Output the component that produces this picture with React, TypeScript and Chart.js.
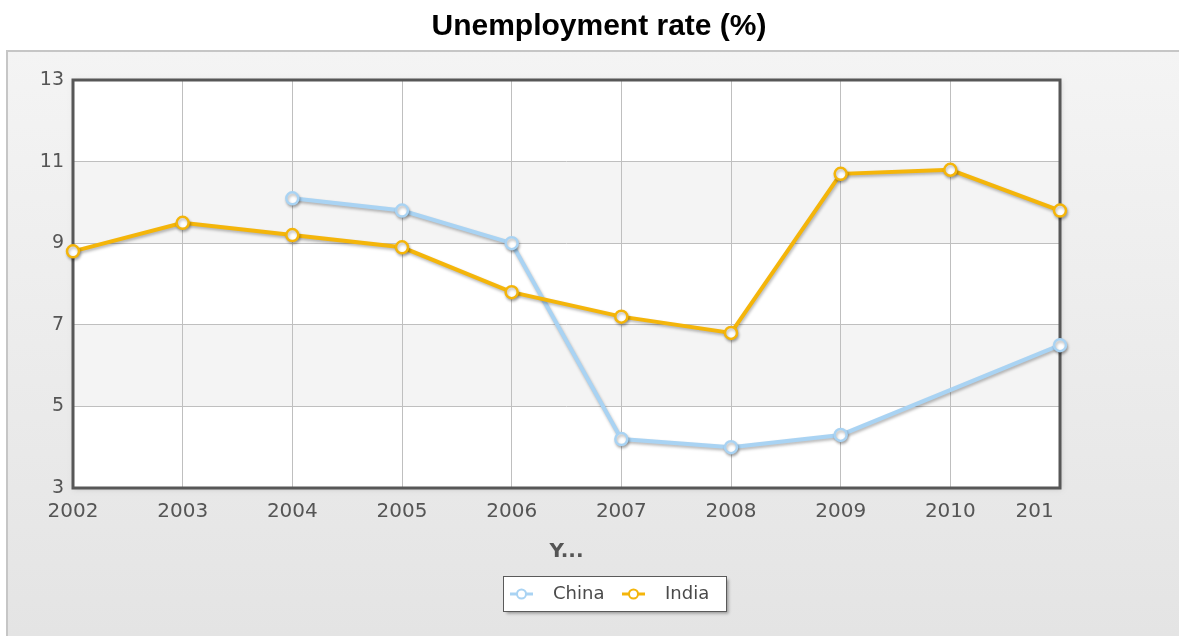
import React, { useEffect, useRef } from 'react';
import { Chart, registerables } from 'chart.js';

Chart.register(...registerables);

const years = ['2002', '2003', '2004', '2005', '2006', '2007', '2008', '2009', '2010', '2011'];
const xTickLabels = ['2002', '2003', '2004', '2005', '2006', '2007', '2008', '2009', '2010', '201'];
const chinaRate: (number | null)[] = [null, null, 10.1, 9.8, 9.0, 4.2, 4.0, 4.3, null, 6.5];
const indiaRate: (number | null)[] = [8.8, 9.5, 9.2, 8.9, 7.8, 7.2, 6.8, 10.7, 10.8, 9.8];
const yMin = 3;
const yMax = 13;
const yStep = 2;
const shadedBands: [number, number][] = [[5, 7], [9, 11]];
const seriesNames = ['China', 'India'];
const seriesColors = ['#a9d3f3', '#f4b50a'];
const chartTitle = 'Unemployment rate (%)';
const xAxisTitle = 'Y...';

const W = 1179;
const H = 636;
const TICK_FONT = 'DejaVu Sans';

const decorPlugin = {
  id: 'decor',
  beforeDraw(chart: any) {
    const { ctx, chartArea } = chart;
    const yScale = chart.scales.y;
    ctx.save();
    ctx.fillStyle = '#ffffff';
    ctx.fillRect(0, 0, W, H);
    const g = ctx.createLinearGradient(0, 51, 0, H);
    g.addColorStop(0, '#f4f4f4');
    g.addColorStop(1, '#e4e4e4');
    ctx.fillStyle = g;
    ctx.fillRect(7, 51, W, H);
    ctx.strokeStyle = '#c6c6c6';
    ctx.lineWidth = 2;
    ctx.beginPath();
    ctx.moveTo(7, H + 5);
    ctx.lineTo(7, 51);
    ctx.lineTo(W + 5, 51);
    ctx.stroke();
    ctx.fillStyle = '#000000';
    ctx.font = 'bold 30px "Liberation Sans", Arial, sans-serif';
    ctx.textAlign = 'center';
    ctx.textBaseline = 'middle';
    ctx.fillText(chartTitle, 599, 27);
    ctx.save();
    ctx.shadowColor = 'rgba(0,0,0,0.18)';
    ctx.shadowBlur = 5;
    ctx.shadowOffsetX = 1;
    ctx.shadowOffsetY = 1;
    ctx.fillStyle = '#ffffff';
    ctx.fillRect(chartArea.left, chartArea.top, chartArea.right - chartArea.left, chartArea.bottom - chartArea.top);
    ctx.restore();
    ctx.fillStyle = '#f4f4f4';
    shadedBands.forEach(([a, b]) => {
      const y1 = yScale.getPixelForValue(b);
      const y2 = yScale.getPixelForValue(a);
      ctx.fillRect(chartArea.left, y1, chartArea.right - chartArea.left, y2 - y1);
    });
    ctx.restore();
  },
  beforeDatasetsDraw(chart: any) {
    const { ctx, chartArea } = chart;
    ctx.save();
    ctx.strokeStyle = '#575757';
    ctx.lineWidth = 3;
    ctx.strokeRect(chartArea.left, chartArea.top, chartArea.right - chartArea.left, chartArea.bottom - chartArea.top);
    ctx.restore();
  },
  beforeDatasetDraw(chart: any) {
    const ctx = chart.ctx;
    ctx.save();
    ctx.shadowColor = 'rgba(0,0,0,0.28)';
    ctx.shadowBlur = 3;
    ctx.shadowOffsetX = 1;
    ctx.shadowOffsetY = 2;
  },
  afterDatasetDraw(chart: any) {
    chart.ctx.restore();
  },
  afterDraw(chart: any) {
    const { ctx } = chart;
    const box = { x: 503.5, y: 576.5, w: 223, h: 35 };
    ctx.save();
    ctx.shadowColor = 'rgba(0,0,0,0.35)';
    ctx.shadowBlur = 3;
    ctx.shadowOffsetX = 2;
    ctx.shadowOffsetY = 2;
    ctx.fillStyle = '#ffffff';
    ctx.fillRect(box.x, box.y, box.w, box.h);
    ctx.restore();
    ctx.save();
    ctx.strokeStyle = '#5a5a5a';
    ctx.lineWidth = 1;
    ctx.strokeRect(box.x, box.y, box.w, box.h);
    const cy = box.y + box.h / 2;
    const itemX = [510, 622];
    chart.data.datasets.forEach((ds: any, i: number) => {
      const x0 = itemX[i];
      ctx.strokeStyle = ds.borderColor;
      ctx.lineWidth = 3;
      ctx.beginPath();
      ctx.moveTo(x0, cy);
      ctx.lineTo(x0 + 23, cy);
      ctx.stroke();
      ctx.beginPath();
      ctx.arc(x0 + 11.5, cy, 4.5, 0, Math.PI * 2);
      ctx.fillStyle = '#ffffff';
      ctx.fill();
      ctx.lineWidth = 2;
      ctx.stroke();
      ctx.fillStyle = '#4a4a4a';
      ctx.font = `18px "${TICK_FONT}", sans-serif`;
      ctx.textAlign = 'left';
      ctx.textBaseline = 'middle';
      ctx.fillText(ds.label, x0 + 43, cy);
    });
    ctx.restore();
  },
};

export default function App() {
  const ref = useRef<HTMLCanvasElement | null>(null);

  useEffect(() => {
    if (!ref.current) return;
    const lastIdx = xTickLabels.length - 1;
    const common = {
      backgroundColor: '#ffffff',
      pointBackgroundColor: '#ffffff',
      borderWidth: 4,
      pointRadius: 6,
      pointBorderWidth: 2.5,
      spanGaps: true,
      tension: 0,
      clip: false as any,
    };
    const chart = new Chart(ref.current, {
      type: 'line',
      data: {
        labels: years,
        datasets: [
          {
            ...common,
            label: seriesNames[0],
            data: chinaRate,
            borderColor: seriesColors[0],
            pointBorderColor: seriesColors[0],
            order: 1,
          },
          {
            ...common,
            label: seriesNames[1],
            data: indiaRate,
            borderColor: seriesColors[1],
            pointBorderColor: seriesColors[1],
            order: 0,
          },
        ],
      },
      options: {
        responsive: false,
        animation: false,
        layout: { padding: { left: 0, top: 80, right: W - 1060, bottom: 0 } },
        plugins: {
          legend: { display: false },
          title: { display: false },
          tooltip: { enabled: false },
        },
        scales: {
          x: {
            type: 'category',
            offset: false,
            grid: { color: '#bfbfbf', lineWidth: 1, drawTicks: false, offset: false },
            border: { display: false },
            ticks: {
              autoSkip: false,
              maxRotation: 0,
              padding: 12,
              color: '#555555',
              font: { family: TICK_FONT, size: 20 },
              callback: (_v: any, i: number) =>
                i === lastIdx ? xTickLabels[i] + '        ' : xTickLabels[i],
            },
            title: {
              display: true,
              text: xAxisTitle,
              color: '#555555',
              font: { family: TICK_FONT, size: 20, weight: 'bold' },
              padding: { top: 0, bottom: 72 },
            },
            afterFit: (s: any) => {
              s.height = H - 488;
            },
          },
          y: {
            min: yMin,
            max: yMax,
            grid: { color: '#bfbfbf', lineWidth: 1, drawTicks: false },
            border: { display: false },
            ticks: {
              stepSize: yStep,
              padding: 9,
              color: '#555555',
              font: { family: TICK_FONT, size: 19 },
            },
            afterFit: (s: any) => {
              s.width = 73;
            },
          },
        },
      },
      plugins: [decorPlugin],
    });
    return () => chart.destroy();
  }, []);

  return (
    <div style={{ position: 'absolute', left: 0, top: 0, width: W, height: H }}>
      <canvas ref={ref} width={W} height={H} style={{ display: 'block', width: W, height: H }} />
    </div>
  );
}
